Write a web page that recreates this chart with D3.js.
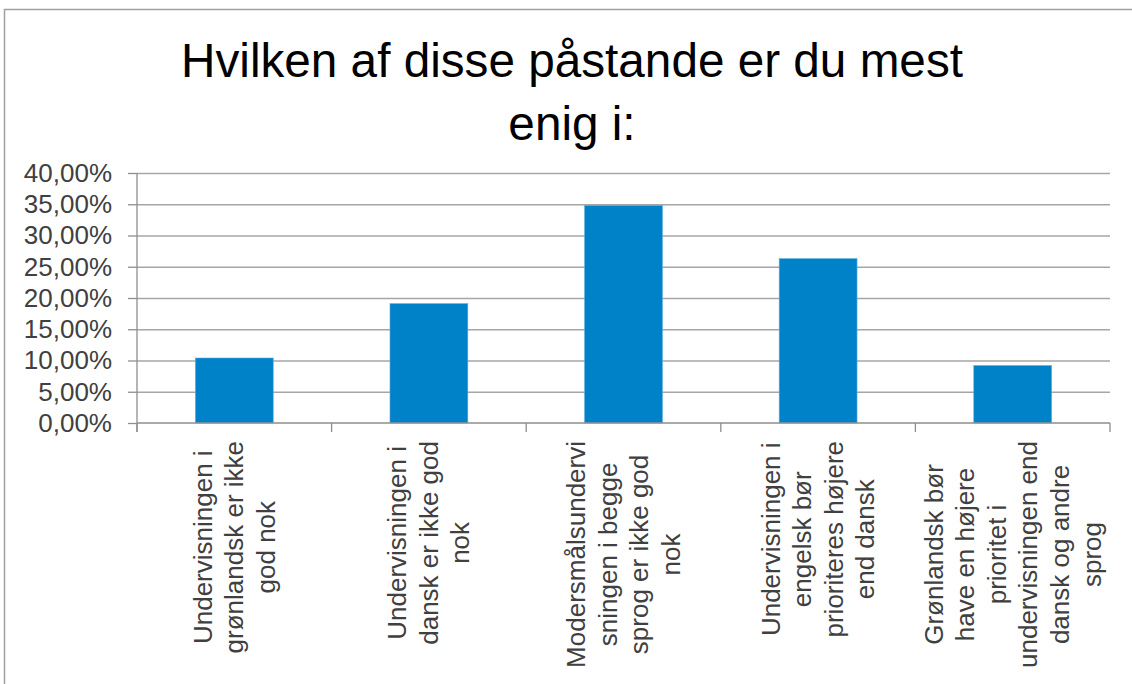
<!DOCTYPE html>
<html>
<head>
<meta charset="utf-8">
<script src="https://cdn.jsdelivr.net/npm/d3@7"></script>
<style>
  html, body { margin: 0; padding: 0; background: #fff; }
  svg { display: block; font-family: "Liberation Sans", Arial, sans-serif; }
</style>
</head>
<body>
<svg id="chart" width="1132" height="684"></svg>
<script>
// ---- Data ---------------------------------------------------------------
var titleLines = ['Hvilken af disse påstande er du mest', 'enig i:'];

var categories = [
  ['Undervisningen i', 'grønlandsk er ikke', 'god nok'],
  ['Undervisningen i', 'dansk er ikke god', 'nok'],
  ['Modersmålsundervi', 'sningen i begge', 'sprog er ikke god', 'nok'],
  ['Undervisningen i', 'engelsk bør', 'prioriteres højere', 'end dansk'],
  ['Grønlandsk bør', 'have en højere', 'prioritet i', 'undervisningen end', 'dansk og andre', 'sprog']
];
var values = [0.104, 0.191, 0.348, 0.263, 0.092];
var yTicks = [0, 0.05, 0.10, 0.15, 0.20, 0.25, 0.30, 0.35, 0.40];

// ---- Layout -------------------------------------------------------------
var plot = { left: 137, right: 1110, top: 173, bottom: 423 };
var BAR_COLOR = '#0082C8';
var GRID_COLOR = '#A6A6A6';
var AXIS_COLOR = '#8E8E8E';
var TEXT_COLOR = '#404040';

var svg = d3.select('#chart');

// chart frame (only top/left edges visible in the picture)
svg.append('rect')
  .attr('x', 4.5).attr('y', 9.5)
  .attr('width', 1140).attr('height', 690)
  .attr('fill', '#fff')
  .attr('stroke', '#A0A0A0')
  .attr('stroke-width', 1.5);

// title
svg.append('text')
  .attr('x', 572).attr('y', 77)
  .attr('text-anchor', 'middle')
  .attr('font-size', 47.7)
  .attr('fill', '#000')
  .selectAll('tspan')
  .data(titleLines)
  .join('tspan')
  .attr('x', 572)
  .attr('dy', function(d, i) { return i === 0 ? 0 : 63; })
  .text(function(d) { return d; });

var keys = categories.map(function(d, i) { return i; });

var x = d3.scaleBand()
  .domain(keys)
  .range([plot.left, plot.right])
  .paddingInner(0.6)
  .paddingOuter(0.3);

var y = d3.scaleLinear()
  .domain([0, 0.40])
  .range([plot.bottom, plot.top]);

var fmt = function(v) { return d3.format('.2f')(v * 100).replace('.', ',') + '%'; };

// gridlines
svg.append('g')
  .attr('transform', 'translate(' + plot.left + ',0)')
  .call(d3.axisLeft(y).tickValues(yTicks.slice(1)).tickSize(-(plot.right - plot.left)).tickFormat(''))
  .call(function(g) {
    g.select('.domain').remove();
    g.selectAll('line').attr('stroke', GRID_COLOR).attr('stroke-width', 1.3);
  });

// bars
svg.append('g')
  .selectAll('rect')
  .data(values)
  .join('rect')
  .attr('x', function(d, i) { return x(i); })
  .attr('y', function(d) { return y(d); })
  .attr('width', x.bandwidth())
  .attr('height', function(d) { return y(0) - y(d); })
  .attr('fill', BAR_COLOR)
  .attr('stroke', '#5AAEDC')
  .attr('stroke-width', 0.6);

// y axis
svg.append('g')
  .attr('transform', 'translate(' + plot.left + ',0)')
  .call(d3.axisLeft(y).tickValues(yTicks).tickSize(9).tickPadding(16).tickFormat(fmt))
  .call(function(g) {
    g.select('.domain').attr('stroke', AXIS_COLOR).attr('stroke-width', 1.3)
      .attr('d', 'M0,' + plot.top + 'V' + (plot.bottom + 9));
    g.selectAll('line').attr('stroke', AXIS_COLOR).attr('stroke-width', 1.3);
    g.selectAll('text')
      .attr('font-size', 26)
      .attr('font-family', '"Liberation Sans", Arial, sans-serif')
      .attr('fill', TEXT_COLOR);
  });

// x axis line + boundary ticks
var step = x.step();
var bounds = keys.map(function(i) { return x(i) - step * 0.3; }).concat([plot.right]);
var xAxis = svg.append('g');
xAxis.append('line')
  .attr('x1', plot.left).attr('x2', plot.right)
  .attr('y1', plot.bottom).attr('y2', plot.bottom)
  .attr('stroke', AXIS_COLOR).attr('stroke-width', 1.3);
xAxis.selectAll('line.tick')
  .data(bounds)
  .join('line')
  .attr('class', 'tick')
  .attr('x1', function(d) { return d; }).attr('x2', function(d) { return d; })
  .attr('y1', plot.bottom).attr('y2', plot.bottom + 9)
  .attr('stroke', AXIS_COLOR).attr('stroke-width', 1.3);

// rotated category labels: block starts just under the axis, lines centred
var LABEL_TOP = 441;
var LINE_H = 31.6;
var labels = svg.append('g');
categories.forEach(function(lines, i) {
  var cx = x(i) + x.bandwidth() / 2;
  var t = labels.append('text')
    .attr('text-anchor', 'middle')
    .attr('font-size', 26)
    .attr('fill', TEXT_COLOR);
  t.selectAll('tspan')
    .data(lines)
    .join('tspan')
    .attr('x', 0)
    .attr('y', function(d, j) { return (j - (lines.length - 1) / 2) * LINE_H + 9; })
    .text(function(d) { return d; });
  var maxLen = d3.max(t.selectAll('tspan').nodes(), function(n) { return n.getComputedTextLength(); });
  var cy = LABEL_TOP + maxLen / 2;
  t.attr('transform', 'translate(' + cx + ',' + cy + ') rotate(-90)');
});
</script>
</body>
</html>
